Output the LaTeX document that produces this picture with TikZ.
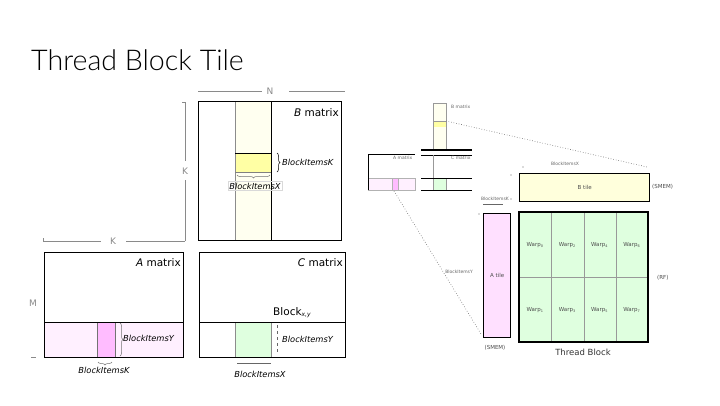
\documentclass[tikz,border=0pt]{standalone}
\usepackage{fontspec}
\setmainfont{DejaVu Sans}
\newfontfamily\titlefont{Lato Light}
\usetikzlibrary{decorations.pathreplacing,calc}
\definecolor{byel}{HTML}{FFFFF0}
\definecolor{yel}{HTML}{FFFFA4}
\definecolor{apink}{HTML}{FFF0FF}
\definecolor{mag}{HTML}{FFBCFF}
\definecolor{grn}{HTML}{DFFFDF}
\definecolor{atile}{HTML}{FFE0FF}
\definecolor{btile}{HTML}{FFFFDC}
\definecolor{dim}{HTML}{8A8A8A}
\tikzset{
  matbox/.style={draw=black, line width=0.8pt, anchor=north west, inner sep=0pt},
  tilebox/.style={draw=black, line width=1.3pt, anchor=north west, inner sep=0pt},
  mlabel/.style={font=\fontsize{10.5}{12}\selectfont, inner sep=0pt},
  ilabel/.style={font=\itshape\fontsize{8.3}{10}\selectfont, inner sep=0pt},
  dimline/.style={draw=dim, line width=0.5pt},
  dimtext/.style={font=\fontsize{9}{10}\selectfont, text=dim, inner sep=0pt},
  tiny/.style={font=\fontsize{4.5}{5}\selectfont, text=black!60, inner sep=0pt},
  warp/.style={font=\fontsize{5.5}{6}\selectfont, text=black!70, inner sep=0pt},
  dotl/.style={draw=black!60, line width=0.6pt, dotted},
  gbrace/.style={draw=black!55, line width=0.5pt, decorate, decoration={brace, amplitude=3pt}},
}
\begin{document}
\begin{tikzpicture}[x=1pt,y=-1pt]
\useasboundingbox (0,0) rectangle (720,405);
\fill[white] (0,0) rectangle (720,405);

% title
\node[anchor=base west, inner sep=0pt, font=\titlefont\fontsize{28.6}{32}\selectfont] (title) at (31,70) {Thread Block Tile};

% ---------- B matrix ----------
\fill[byel] (235,101) rectangle (271,240);
\fill[yel] (235,153) rectangle (271,172);
\draw[black!45] (235,101) -- (235,240);
\draw[black] (271,101) -- (271,240);
\draw[black] (235,153) -- (271,153);
\draw[black!50] (235,172) -- (271,172);
\node[matbox, minimum width=143pt, minimum height=139pt] (B) at (198,101) {};
\node[mlabel, anchor=base east] (Blab) at (339,116) {\textit{B} matrix};
\draw[gbrace, draw=black] (277,153) -- (277,172);
\node[ilabel, anchor=base west] (bk) at (282,165) {BlockItemsK};
\draw[gbrace] (270,175) -- (237,175);
\node[ilabel, anchor=base, draw=black!15, inner sep=1.5pt] (bx) at (255,189) {BlockItemsX};

% N and K dimensions
\node[dimtext] (N) at (270,91) {N};
\coordinate (n1) at (198,91); \coordinate (n2) at (345,91);
\draw[dimline] (n1) -- (262,91);
\draw[dimline] (289,91) -- (n2);
\node[dimtext] (K1) at (185,171) {K};
\coordinate (k1) at (185,102); \coordinate (k2) at (185,241);
\draw[dimline] (k1) -- (185,161);
\draw[dimline] (185,180) -- (k2);
\node[dimtext] (K2) at (113,241) {K};
\coordinate (k3) at (43,241);
\draw[dimline] (k3) -- (101,241);
\draw[dimline] (126,241) -- (k2);
\draw[dimline] (43,238) -- (43,241);
\draw[dimline] (182,102) -- (185,102);
\node[dimtext] (M) at (33,303) {M};
\draw[dimline] (31,357) -- (36,357);

% ---------- A matrix ----------
\fill[apink] (44,322) rectangle (183,357);
\fill[mag] (97,322) rectangle (115,357);
\draw[black!55] (97,322) -- (97,357) (115,322) -- (115,357);
\draw[black] (44,322) -- (183,322);
\node[matbox, minimum width=139pt, minimum height=105pt] (A) at (44,252) {};
\node[mlabel, anchor=base east] (Alab) at (181,266) {\textit{A} matrix};
\draw[gbrace] (120,323) -- (120,356);
\node[ilabel, anchor=base west] (ay) at (123,341) {BlockItemsY};
\draw[gbrace] (112,362) -- (98,362);
\node[ilabel, anchor=base] (ak) at (104,373) {BlockItemsK};

% ---------- C matrix ----------
\fill[grn] (235,322) rectangle (271,357);
\draw[black!45] (235,322) -- (235,357) (271,322) -- (271,357);
\draw[black] (199,322) -- (345,322);
\node[matbox, minimum width=146pt, minimum height=105pt] (C) at (199,252) {};
\node[mlabel, anchor=base east] (Clab) at (343,266) {\textit{C} matrix};
\node[mlabel, anchor=base west] (blk) at (273,315) {Block\textsubscript{\fontsize{6}{6}\selectfont\itshape x,y}};
\draw[black!60, dashed, line width=0.5pt] (277,325) -- (277,355);
\node[ilabel, anchor=base west] (cy) at (282,342) {BlockItemsY};
\draw[black!60, line width=0.5pt] (237,363) -- (271,363);
\node[ilabel, anchor=base] (cx) at (260,377) {BlockItemsX};

% ---------- thumbnail ----------
\fill[byel] (433,103) rectangle (446,150);
\fill[yel] (433,121) rectangle (446,127);
\draw[black!40, line width=0.5pt] (433,103) rectangle (446,150);
\draw[black!40, line width=0.5pt] (433,121) -- (446,121);
\node[tiny, anchor=west] (tb) at (451,107) {B matrix};
\draw[black, line width=1.1pt] (421,150) -- (472,150);
\draw[black, line width=0.6pt] (421,155) -- (472,155);
\node[tiny, anchor=west] (tc) at (451,158) {C matrix};
\draw[black!40, line width=0.6pt] (433,155) -- (433,178);
\fill[grn] (433,178) rectangle (446,190);
\draw[black!40, line width=0.5pt] (433,178) rectangle (446,190);
\draw[black, line width=0.6pt] (421,178) -- (472,178) (421,190) -- (472,190);
% small A
\fill[apink] (368,178) rectangle (415,190);
\fill[mag] (392,178) rectangle (398,190);
\draw[black!30, line width=0.5pt] (368,178) rectangle (415,190);
\draw[black!30, line width=0.5pt] (392,178) -- (392,190) (398,178) -- (398,190);
\draw[black, line width=0.6pt] (368,190) -- (368,154) -- (415,154);
\node[tiny, anchor=west] (ta) at (393,158) {A matrix};

% ---------- tiles ----------
\node[tilebox, fill=btile, minimum width=130pt, minimum height=28pt] (Bt) at (519,173) {};
\node[warp] at (Bt.center) {B tile};
\node[tilebox, fill=atile, minimum width=27pt, minimum height=124pt] (At) at (483,213) {};
\node[warp] at (At.center) {A tile};
\node[tilebox, fill=grn, minimum width=129pt, minimum height=130pt] (TB) at (519,212) {};
\foreach \i in {1,2,3} {
  \draw[black!40, line width=0.5pt] ($(TB.north west)!\i/4!(TB.north east)$) -- ($(TB.south west)!\i/4!(TB.south east)$);
}
\draw[black!40, line width=0.5pt] (TB.west) -- (TB.east);
\draw[black, line width=1.3pt] (519,212) rectangle (648,342);
\foreach \c/\t/\b in {0/0/1,1/2/3,2/4/5,3/6/7} {
  \node[warp] at (535.1+\c*32.25,245) {Warp\textsubscript{\fontsize{3.5}{4}\selectfont\t}};
  \node[warp] at (535.1+\c*32.25,310) {Warp\textsubscript{\fontsize{3.5}{4}\selectfont\b}};
}
\node[warp, anchor=west] (rf) at (657,278) {(RF)};
\node[warp, anchor=west] (sm1) at (652,187) {(SMEM)};
\node[warp] (sm2) at (495,348) {(SMEM)};
\node[font=\fontsize{8.5}{10}\selectfont, text=black!80, inner sep=0pt] (tbl) at (583,352) {Thread Block};

% dotted projections
\coordinate (yb) at (446,121);
\coordinate (xr) at (647,167);
\coordinate (xl) at (523,167);
\draw[dotl] (yb) -- (xr);
\fill[black!60] (xl) circle (0.7pt);
\node[tiny] (bix) at (565,164) {BlockItemsX};
\coordinate (ab) at (394,191);
\coordinate (ae) at (481,334);
\draw[dotl] (ab) -- (ae);
\fill[black!60] (479,214) circle (0.7pt);
\node[tiny, fill=white, inner sep=0.5pt] (biy) at (459,272) {BlockItemsY};
\node[tiny, anchor=east] (bik) at (509,199) {BlockItemsK};
\fill[black!60] (511,175) circle (0.7pt) (511,199) circle (0.7pt);
\draw[black!60, line width=0.5pt] (483,204) -- (503,204);
\end{tikzpicture}
\end{document}
